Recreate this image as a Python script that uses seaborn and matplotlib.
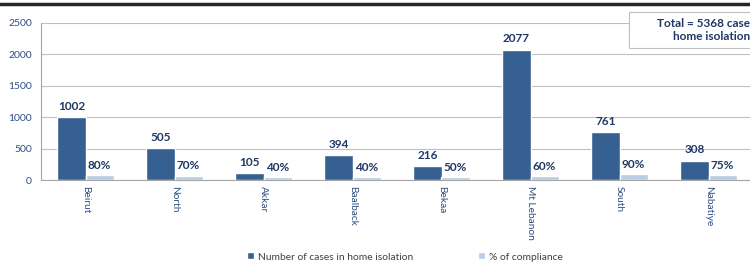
import pandas as pd
import matplotlib
matplotlib.use("Agg")
import matplotlib.pyplot as plt
import seaborn as sns
from matplotlib.lines import Line2D
from matplotlib.patches import Rectangle

# data
regions = ["Beirut", "North", "Akkar", "Baalback", "Bekaa", "Mt Lebanon", "South", "Nabatiye"]
home_isolation = [1002, 505, 105, 394, 216, 2077, 761, 308]
compliance_pct = [80, 70, 40, 40, 50, 60, 90, 75]
series_names = ["Number of cases in home isolation", "% of compliance"]
total_text = "Total = 5368 cases in\nhome isolation"

dark_blue = "#366092"
light_blue = "#B9CDE5"
label_navy = "#1F3864"
tick_color = "#2F4F7F"

df = pd.DataFrame({
    "region": regions * 2,
    "series": [series_names[0]] * len(regions) + [series_names[1]] * len(regions),
    "value": home_isolation + compliance_pct,
})

sns.set_style("white")
plt.rcParams["font.family"] = ["Lato", "DejaVu Sans"]

W, H = 750, 262
fig = plt.figure(figsize=(7.5, 2.62), dpi=100)
ax = fig.add_axes([41 / W, 1 - 180 / H, 712 / W, 157 / H])

sns.barplot(data=df, x="region", y="value", hue="series", order=regions,
            hue_order=series_names, palette=[dark_blue, light_blue],
            width=0.63, saturation=1, ax=ax, legend=True)

ax.set_ylim(0, 2500)
ax.set_xlim(-0.5, len(regions) - 0.5)
ax.set_yticks([0, 500, 1000, 1500, 2000, 2500])
ax.yaxis.grid(True, color="#BFBFBF", linewidth=0.8)
ax.set_axisbelow(True)
ax.set_xlabel("")
ax.set_ylabel("")

for side in ["top", "right"]:
    ax.spines[side].set_visible(False)
for side in ["left", "bottom"]:
    ax.spines[side].set_color("#A6A6A6")
    ax.spines[side].set_linewidth(0.8)

ax.tick_params(axis="y", labelsize=7.5, colors=tick_color, length=3, color="#A6A6A6")
ax.tick_params(axis="x", which="major", length=0, labelsize=7.3, labelcolor=tick_color, pad=4)
ax.set_xticks([i + 0.5 for i in range(-1, len(regions))], minor=True)
ax.tick_params(axis="x", which="minor", length=4, color="#A6A6A6")
plt.setp(ax.get_xticklabels(), rotation=270, va="top", ha="center")

# value labels
ax.bar_label(ax.containers[0], labels=[str(v) for v in home_isolation],
             padding=4, fontsize=8.5, fontweight="bold", color=label_navy)
ax.bar_label(ax.containers[1], labels=[f"{v}%" for v in compliance_pct],
             padding=3, fontsize=8.5, fontweight="bold", color=label_navy)

# legend at the bottom
handles, labels = ax.get_legend_handles_labels()
ax.get_legend().remove()
fig.legend(handles, labels, loc="center", bbox_to_anchor=(405 / W, 1 - 257 / H), ncol=2,
           frameon=False, fontsize=7.4, handlelength=0.65, handleheight=0.65,
           handletextpad=0.4, columnspacing=6.3, labelcolor="#404040",
           borderpad=0, borderaxespad=0)

# total box in the top right corner (cut off at the right edge, as in the reference)
fig.add_artist(Rectangle((629 / W, 1 - 48 / H), 140 / W, 36 / H, transform=fig.transFigure,
                         facecolor="white", edgecolor="#BFBFBF", linewidth=0.8, zorder=5))
fig.text(712 / W, 1 - 30 / H, total_text, ha="center", va="center", multialignment="center",
         fontsize=8.5, fontweight="bold", color=label_navy, linespacing=1.2, zorder=6)

# thick rule at the top
fig.add_artist(Line2D([0, 1], [1 - 4 / H, 1 - 4 / H], color="#262626", linewidth=2.5,
                      transform=fig.transFigure))

fig.savefig("out.png", dpi=100)
